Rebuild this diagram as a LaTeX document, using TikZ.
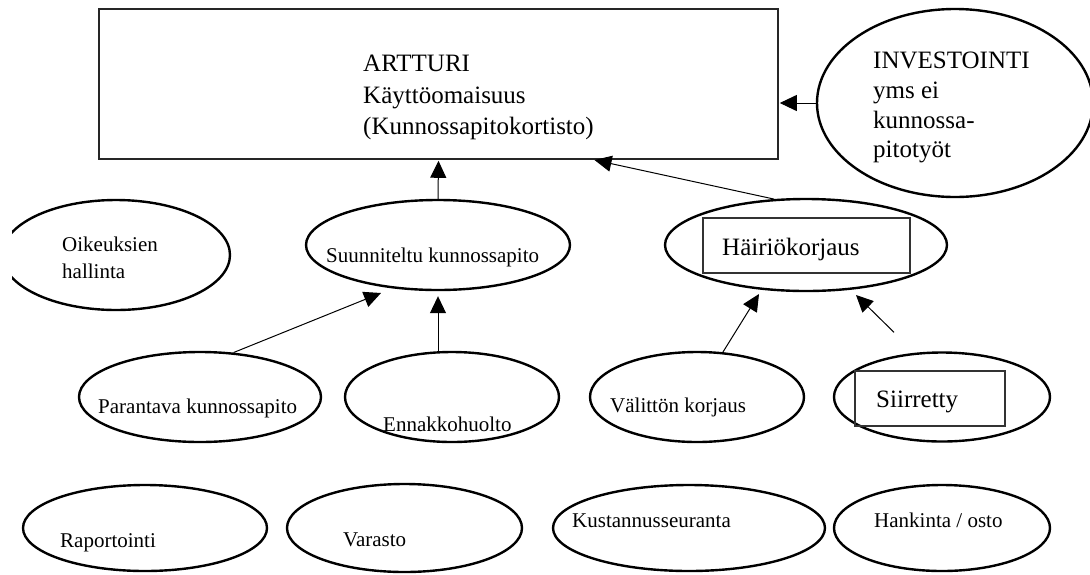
\documentclass[tikz,border=0pt]{standalone}
\usepackage{fontspec}
\setmainfont{Liberation Serif}
\usetikzlibrary{shapes.geometric,arrows.meta,calc}
\begin{document}
\begin{tikzpicture}[x=1pt,y=-1pt,
  ell/.style={draw, ellipse, line width=2.4pt, inner sep=0pt},
  lbl/.style={anchor=base west, inner sep=0pt, font=\fontsize{21}{25}\selectfont},
  big/.style={anchor=base west, inner sep=0pt, font=\fontsize{25}{30}\selectfont},
  arr/.style={line width=1pt, -{Triangle[length=17pt,width=16pt]}},
  inbox/.style={draw=black!80, line width=1.2pt, inner sep=0pt}
]
\useasboundingbox (0,0) rectangle (1090,574);

% main box
\node[draw=black!85, line width=1.6pt, minimum width=679pt, minimum height=150pt, inner sep=0pt] (box) at (438.5,84) {};
\node[big] (t1) at (363,71) {ARTTURI};
\node[big] (t2) at (363,103) {Käyttöomaisuus};
\node[big] (t3) at (363,134) {(Kunnossapitokortisto)};

% investointi
\node[ell, minimum width=276pt, minimum height=188pt] (inv) at (955,103) {};
\node[big] (i1) at (873,68) {INVESTOINTI};
\node[big] (i2) at (873,98) {yms ei};
\node[big] (i3) at (873,128) {kunnossa-};
\node[big] (i4) at (873,157) {pitotyöt};

% oikeuksien hallinta
\begin{scope}
\clip (12,0) rectangle (1090,574);
\node[ell, minimum width=228pt, minimum height=110pt] (oik) at (116,255) {};
\end{scope}
\node[lbl] (o1) at (62,251) {Oikeuksien};
\node[lbl] (o2) at (62,278) {hallinta};

% second row
\node[ell, minimum width=264pt, minimum height=90pt] (suu) at (438,245) {};
\node[lbl] (suut) at (326,262) {Suunniteltu kunnossapito};

\node[ell, minimum width=282pt, minimum height=92pt] (hai) at (806,245) {};
\node[inbox, minimum width=207pt, minimum height=55pt] (haib) at (806.5,245.5) {};
\node[big] (hait) at (722,255) {Häiriökorjaus};

% third row
\node[ell, minimum width=242pt, minimum height=90pt] (par) at (200,397) {};
\node[lbl] (part) at (98,413) {Parantava kunnossapito};

\node[ell, minimum width=214pt, minimum height=90pt] (enn) at (452,397) {};
\node[lbl] (ennt) at (383,431) {Ennakkohuolto};

\node[ell, minimum width=214pt, minimum height=90pt] (val) at (697,397) {};
\node[lbl] (valt) at (610,412) {Välittön korjaus};

\node[ell, minimum width=216pt, minimum height=89pt] (sii) at (942,397) {};
\node[inbox, minimum width=150pt, minimum height=55pt] (siib) at (930,398.5) {};
\node[big] (siit) at (876,407) {Siirretty};

% bottom row
\node[ell, minimum width=244pt, minimum height=86pt] (rap) at (145,528) {};
\node[lbl] (rapt) at (60,547) {Raportointi};

\node[ell, minimum width=235pt, minimum height=88pt] (var) at (404.5,528) {};
\node[lbl] (vart) at (343,546) {Varasto};

\node[ell, minimum width=272pt, minimum height=86pt] (kus) at (689,528) {};
\node[lbl] (kust) at (572,527) {Kustannusseuranta};

\node[ell, minimum width=216pt, minimum height=86pt] (han) at (942,528) {};
\node[lbl] (hant) at (874,527) {Hankinta / osto};

% connectors
\draw[arr, shorten >=1pt] (suu.north) -- (box.south);
\draw[arr, shorten >=1pt] (hai.125) -- ($(box.south)+(155,0)$);
\draw[arr, shorten >=1pt] (inv.west) -- (inv.west -| box.east);
\draw[arr] (par.53) -- ($(suu.center)+(-57,48)$);
\draw[arr] (suu.south |- enn.north) -- ($(suu.south)+(0,5)$);
\draw[arr] (val.60) -- ($(hai.center)+(-47,49)$);
\coordinate (siitail) at ($(sii.north)+(-48,-19)$);
\draw[arr] (siitail) -- ($(hai.center)+(50,50)$);
\end{tikzpicture}
\end{document}
